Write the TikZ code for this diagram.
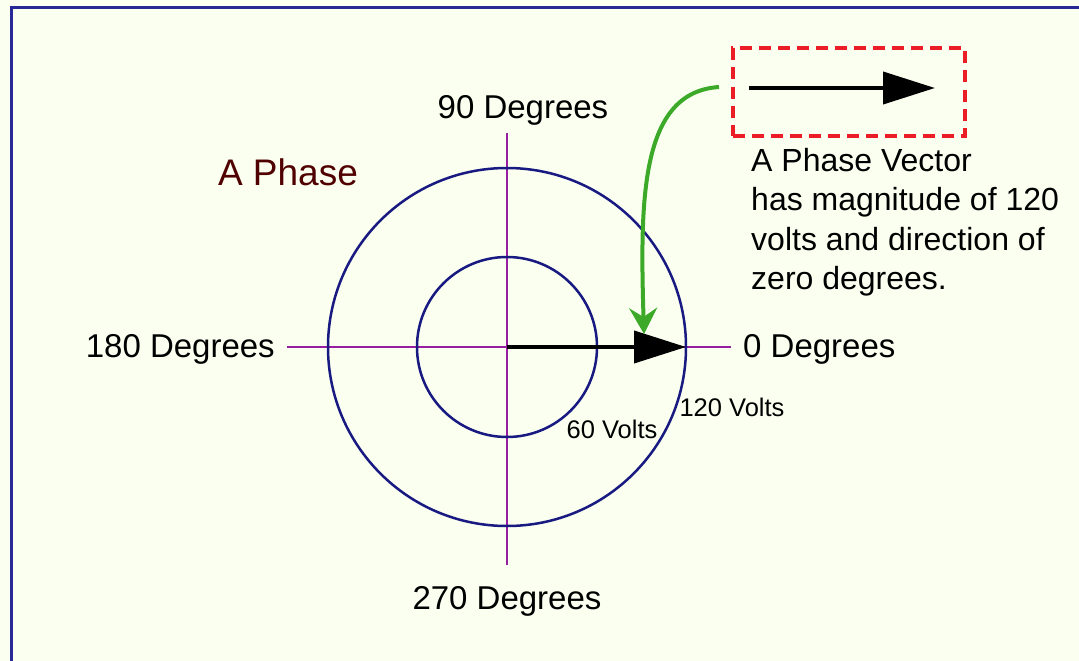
\documentclass[tikz,border=0pt]{standalone}
\usepackage{fontspec}
\setmainfont{Liberation Sans}
\usetikzlibrary{arrows.meta}
\definecolor{bgc}{RGB}{250,255,240}
\definecolor{framec}{RGB}{40,40,150}
\definecolor{ringc}{RGB}{25,25,130}
\definecolor{axisc}{RGB}{150,30,160}
\definecolor{greenc}{RGB}{60,170,40}
\definecolor{redc}{RGB}{235,30,40}
\definecolor{phasec}{RGB}{80,0,0}
\tikzset{
  ring/.style={circle, draw=ringc, line width=2.5pt, inner sep=0pt, outer sep=0pt},
  axis/.style={draw=axisc, line width=2pt},
  vec/.style={line width=4pt, -{Triangle[length=52pt,width=32pt]}},
  lbl/.style={font=\fontsize{33}{39}\selectfont, inner sep=0pt},
  small/.style={font=\fontsize{25.5}{30}\selectfont, inner sep=0pt},
  pointer/.style={draw=greenc, line width=4pt, -{Stealth[length=26pt,width=28pt,inset=9pt]}},
  dbox/.style={draw=redc, line width=4pt, dash pattern=on 12pt off 7pt, minimum width=232pt, minimum height=87pt, inner sep=0pt}
}
\begin{document}
\begin{tikzpicture}[x=1pt,y=-1pt]
\useasboundingbox (0,0) rectangle (1079,661);
\fill[bgc] (0,0) rectangle (1079,661);
\draw[framec, line width=3pt] (11,661) -- (11,8) -- (1079,8);
% axes
\coordinate (O) at (507,347);
\coordinate (axT) at (507,133);
\coordinate (axB) at (507,565);
\coordinate (axL) at (287,347);
\coordinate (axR) at (731,347);
\draw[axis] (axT) -- (axB);
\draw[axis] (axL) -- (axR);
% rings
\node[ring, minimum size=358pt] (outer) at (O) {};
\node[ring, minimum size=180pt] (inner) at (O) {};
% main vector
\draw[vec] (O) -- (outer.east);
% labels
\node[lbl] (d90) at (523,110) {90 Degrees};
\node[lbl, anchor=east] (d180) at (275,349) {180 Degrees};
\node[lbl, anchor=west] (d0) at (743,349) {0 Degrees};
\node[lbl] (d270) at (507,601) {270 Degrees};
\node[font=\fontsize{37}{44}\selectfont, text=phasec, inner sep=0pt] (title) at (288,172) {A Phase};
\node[small] (v60) at (612,429) {60 Volts};
\node[small] (v120) at (732,407) {120 Volts};
% legend box
\node[dbox] (box) at (849,92) {};
\coordinate (bs) at (749,88);
\coordinate (be) at (935,88);
\draw[vec] (bs) -- (be);
\node[lbl, anchor=north west, align=left, font=\fontsize{32}{39.5}\selectfont] (desc) at (751,148)
  {A Phase Vector\\has magnitude of 120\\volts and direction of\\zero degrees.};
% pointer
\coordinate (ps) at (719,87);
\coordinate (pe) at (644,334);
\draw[pointer] (ps) .. controls (640,92) and (640,200) .. (pe);
\end{tikzpicture}
\end{document}
